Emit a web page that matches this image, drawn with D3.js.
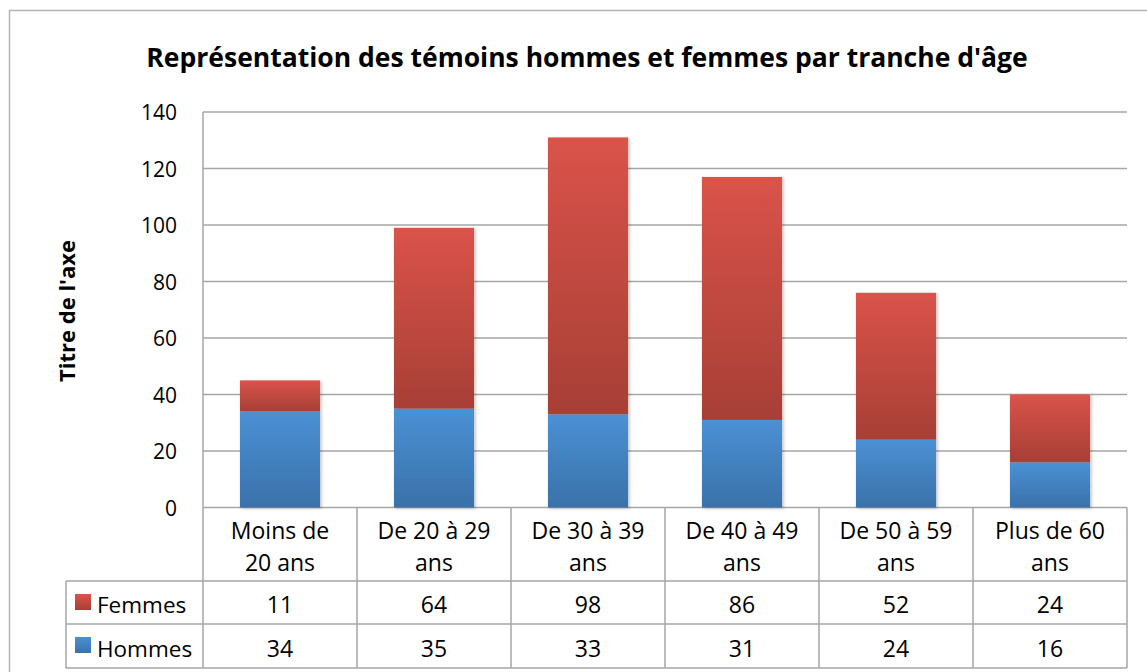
<!DOCTYPE html>
<html>
<head>
<meta charset="utf-8">
<script src="https://cdn.jsdelivr.net/npm/d3@7"></script>
<style>
  body { margin: 0; background: #fff; }
  svg text { font-family: "Open Sans", Lato, sans-serif; fill: #000; }
</style>
</head>
<body>
<svg id="chart" width="1147" height="672"></svg>
<script>
// chart values
const categories = [
  ['Moins de', '20 ans'],
  ['De 20 à 29', 'ans'],
  ['De 30 à 39', 'ans'],
  ['De 40 à 49', 'ans'],
  ['De 50 à 59', 'ans'],
  ['Plus de 60', 'ans'],
];
const hommes = [34, 35, 33, 31, 24, 16];
const femmes = [11, 64, 98, 86, 52, 24];
const yTicks = [0, 20, 40, 60, 80, 100, 120, 140];
const title = "Représentation des témoins hommes et femmes par tranche d'âge";
const yTitle = "Titre de l'axe";

const PLOT_L = 203, PLOT_R = 1127;
const PLOT_T = 112, PLOT_B = 507.5;
const ROW1_B = 581, ROW2_B = 624, ROW3_B = 668;
const TABLE_L = 66;
const GRID = '#a6a6a6';

const svg = d3.select('#chart');

// gradients + shadow
const defs = svg.append('defs');
function grad(id, top, bot) {
  const g = defs.append('linearGradient').attr('id', id)
    .attr('x1', 0).attr('y1', 0).attr('x2', 0).attr('y2', 1);
  g.append('stop').attr('offset', '0%').attr('stop-color', top);
  g.append('stop').attr('offset', '100%').attr('stop-color', bot);
}
grad('g-fem', '#da5349', '#a73f36');
grad('g-hom', '#4a91d5', '#3a71a9');
const f = defs.append('filter').attr('id', 'shadow')
  .attr('x', '-10%').attr('y', '-10%').attr('width', '130%').attr('height', '130%');
f.append('feDropShadow').attr('dx', 1.5).attr('dy', 1).attr('stdDeviation', 1.5)
  .attr('flood-color', '#000').attr('flood-opacity', 0.25);

// outer frame
svg.append('path')
  .attr('d', 'M9.5,672 L9.5,10.5 L1147,10.5')
  .attr('fill', 'none').attr('stroke', '#b3b3b3').attr('stroke-width', 1.5);

svg.append('text')
  .attr('x', 587).attr('y', 67)
  .attr('text-anchor', 'middle')
  .style('font-size', '26.5px').style('font-weight', 700)
  .text(title);

const x = d3.scaleBand()
  .domain(d3.range(categories.length))
  .range([PLOT_L, PLOT_R])
  .paddingInner(0.48).paddingOuter(0.24);
const xCell = d3.scaleBand().domain(d3.range(categories.length)).range([PLOT_L, PLOT_R]);
const y = d3.scaleLinear().domain([0, 140]).range([PLOT_B, PLOT_T]);

// gridlines
svg.append('g').selectAll('line').data(yTicks).join('line')
  .attr('x1', PLOT_L).attr('x2', PLOT_R)
  .attr('y1', d => y(d)).attr('y2', d => y(d))
  .attr('stroke', GRID).attr('stroke-width', 1.5);

// y axis labels
const yAxis = d3.axisLeft(y).tickValues(yTicks).tickSize(0).tickPadding(26);
const ya = svg.append('g').attr('transform', `translate(${PLOT_L},0)`).call(yAxis);
ya.select('.domain').remove();
ya.selectAll('text').style('font-size', '21px').attr('dy', '0.36em')
  .style('font-family', '"Open Sans", sans-serif');

svg.append('text')
  .attr('transform', `translate(75,311) rotate(-90)`)
  .attr('text-anchor', 'middle')
  .style('font-size', '22px').style('font-weight', 700)
  .text(yTitle);

// stacked bars
const rows = categories.map((c, i) => ({ i, h: hommes[i], f: femmes[i] }));
const bars = svg.append('g').attr('filter', 'url(#shadow)');
bars.selectAll('rect.hom').data(rows).join('rect')
  .attr('class', 'hom')
  .attr('x', d => x(d.i)).attr('width', x.bandwidth())
  .attr('y', d => y(d.h)).attr('height', d => y(0) - y(d.h))
  .attr('fill', 'url(#g-hom)');
bars.selectAll('rect.fem').data(rows).join('rect')
  .attr('class', 'fem')
  .attr('x', d => x(d.i)).attr('width', x.bandwidth())
  .attr('y', d => y(d.h + d.f)).attr('height', d => y(d.h) - y(d.h + d.f))
  .attr('fill', 'url(#g-fem)');

// data table
const tbl = svg.append('g').attr('stroke', GRID).attr('stroke-width', 1.5);
tbl.append('line').attr('x1', PLOT_L).attr('x2', PLOT_L).attr('y1', PLOT_T).attr('y2', ROW3_B);
categories.forEach((c, i) => {
  const xr = xCell(i) + xCell.bandwidth();
  tbl.append('line').attr('x1', xr).attr('x2', xr).attr('y1', PLOT_B).attr('y2', ROW3_B);
});
[ROW1_B, ROW2_B, ROW3_B].forEach(yy => {
  tbl.append('line').attr('x1', TABLE_L).attr('x2', PLOT_R).attr('y1', yy).attr('y2', yy);
});
tbl.append('line').attr('x1', TABLE_L).attr('x2', TABLE_L).attr('y1', ROW1_B).attr('y2', ROW3_B);

const cx = i => xCell(i) + xCell.bandwidth() / 2;
const txt = svg.append('g').style('font-size', '23px').attr('text-anchor', 'middle');
categories.forEach((lines, i) => {
  lines.forEach((ln, k) => {
    txt.append('text').attr('x', cx(i)).attr('y', 539 + k * 32).text(ln);
  });
  txt.append('text').attr('x', cx(i)).attr('y', 613).text(femmes[i]);
  txt.append('text').attr('x', cx(i)).attr('y', 657).text(hommes[i]);
});

// legend keys in the table
const legend = [
  { name: 'Femmes', fill: 'url(#g-fem)', y0: ROW1_B, base: 613 },
  { name: 'Hommes', fill: 'url(#g-hom)', y0: ROW2_B, base: 657 },
];
legend.forEach(l => {
  svg.append('rect').attr('x', 75).attr('y', l.y0 + 13).attr('width', 16).attr('height', 16)
    .attr('fill', l.fill);
  svg.append('text').attr('x', 97).attr('y', l.base).style('font-size', '22.5px').text(l.name);
});
</script>
</body>
</html>
